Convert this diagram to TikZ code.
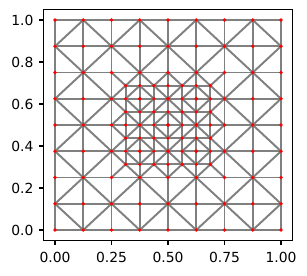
\documentclass[tikz,border=0pt]{standalone}
\usepackage{fontspec}
\setmainfont{DejaVu Sans}

\begin{document}
\begin{tikzpicture}[x=162.72pt, y=151.2pt,
    meshline/.style={draw=gray, line width=1.4pt},
    frameline/.style={draw=black, line width=0.8pt}]
  \useasboundingbox (-0.2434,-0.2143) rectangle (1.1150,1.0952);

  % mesh, one unit = 1/16
  \begin{scope}[x=10.17pt, y=9.45pt, meshline]
    \foreach \k in {0,2,...,16} {
      \draw (\k,0) -- (\k,16);
      \draw (0,\k) -- (16,\k);
    }
    \foreach \d in {2,6,10,14} {
      \draw (\d,0) -- (0,\d);
      \draw (16,16-\d) -- (16-\d,16);
      \draw (0,\d) -- (16-\d,16);
      \draw (\d,0) -- (16,16-\d);
    }
    % refined block
    \foreach \k in {5,7,9,11} {
      \draw (\k,5) -- (\k,11);
      \draw (5,\k) -- (11,\k);
    }
    \foreach \a/\b in {5/6, 5/10, 6/5, 7/8, 6/9, 9/6, 8/7, 9/10,
        10/5, 10/9, 4/4, 4/8, 7/11, 8/4, 11/7, 11/11}
      \draw (\a,\b) -- ++(1,1);
    \foreach \a/\b in {4/7, 4/11, 7/4, 8/11, 11/4, 11/8, 5/5, 5/9,
        6/6, 7/7, 6/10, 9/5, 8/8, 9/9, 10/6, 10/10}
      \draw (\a+1,\b) -- ++(-1,1);
    % vertices
    \foreach \i in {0,2,...,16}
      \foreach \j in {0,2,...,16}
        \fill[red] (\i,\j) circle (1.3pt);
    \foreach \i in {5,...,11}
      \foreach \j in {5,...,11}
        \fill[red] (\i,\j) circle (1.3pt);
  \end{scope}

  % frame and ticks
  \draw[frameline] (-0.05,-0.05) rectangle (1.05,1.05);
  \foreach \x/\xl in {0/0.00, 0.25/0.25, 0.5/0.50, 0.75/0.75, 1/1.00}
    \draw[frameline] (\x,-0.05) -- ++(0,-3.5pt)
      node[anchor=north, inner sep=0pt, yshift=-4.5pt]{\xl};
  \foreach \y/\yl in {0/0.0, 0.2/0.2, 0.4/0.4, 0.6/0.6, 0.8/0.8, 1/1.0}
    \draw[frameline] (-0.05,\y) -- ++(-3.5pt,0)
      node[anchor=east, inner sep=0pt, xshift=-3.5pt]{\yl};
\end{tikzpicture}
\end{document}
